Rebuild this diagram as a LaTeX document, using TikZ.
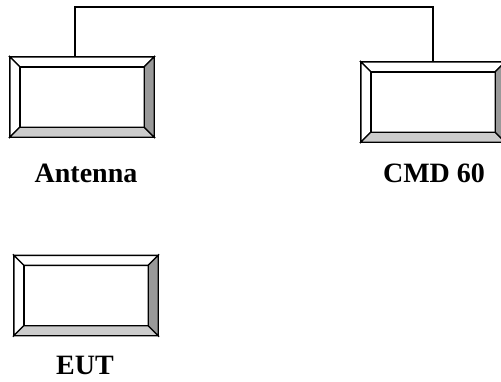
\documentclass[tikz,border=0pt]{standalone}
\usepackage{fontspec}
\setmainfont{Liberation Serif}
\tikzset{
  devbox/.style={rectangle, draw=none, minimum width=144pt, minimum height=80pt, inner sep=0pt},
  lbl/.style={font=\bfseries\fontsize{28}{31}\selectfont, anchor=base, inner sep=0pt},
  edge/.style={line width=1.4pt, line join=miter},
  wire/.style={line width=1.4pt}
}
\newcommand\bevelbox[1]{%
  \coordinate (o1) at (#1.north west);
  \coordinate (o2) at (#1.north east);
  \coordinate (o3) at (#1.south east);
  \coordinate (o4) at (#1.south west);
  \coordinate (i1) at ([shift={(10pt,-10pt)}]#1.north west);
  \coordinate (i2) at ([shift={(-10pt,-10pt)}]#1.north east);
  \coordinate (i3) at ([shift={(-10pt,10pt)}]#1.south east);
  \coordinate (i4) at ([shift={(10pt,10pt)}]#1.south west);
  \filldraw[edge, fill=white] (o1)--(o2)--(i2)--(i1)--cycle;
  \filldraw[edge, fill=white] (o1)--(i1)--(i4)--(o4)--cycle;
  \filldraw[edge, fill=black!20] (o4)--(i4)--(i3)--(o3)--cycle;
  \filldraw[edge, fill=black!40] (o2)--(o3)--(i3)--(i2)--cycle;
  \draw[edge] (i1) rectangle (i3);
}
\begin{document}
\begin{tikzpicture}[x=1pt, y=-1pt]
  \useasboundingbox (0,0) rectangle (501,381);
  \clip (0,0) rectangle (501,381);
  \node[devbox] (ant) at (82,97) {};
  \node[devbox] (cmd) at (433,102) {};
  \node[devbox] (eut) at (86,295.5) {};
  \coordinate (top) at (75,7);
  \draw[wire] ([xshift=-7pt]ant.north) |- (top) -| (cmd.north);
  \bevelbox{ant}
  \bevelbox{cmd}
  \bevelbox{eut}
  \node[lbl] (antl) at (86,182) {Antenna};
  \node[lbl] (cmdl) at (434,182) {CMD 60};
  \node[lbl] (eutl) at (85,374) {EUT};
\end{tikzpicture}
\end{document}
